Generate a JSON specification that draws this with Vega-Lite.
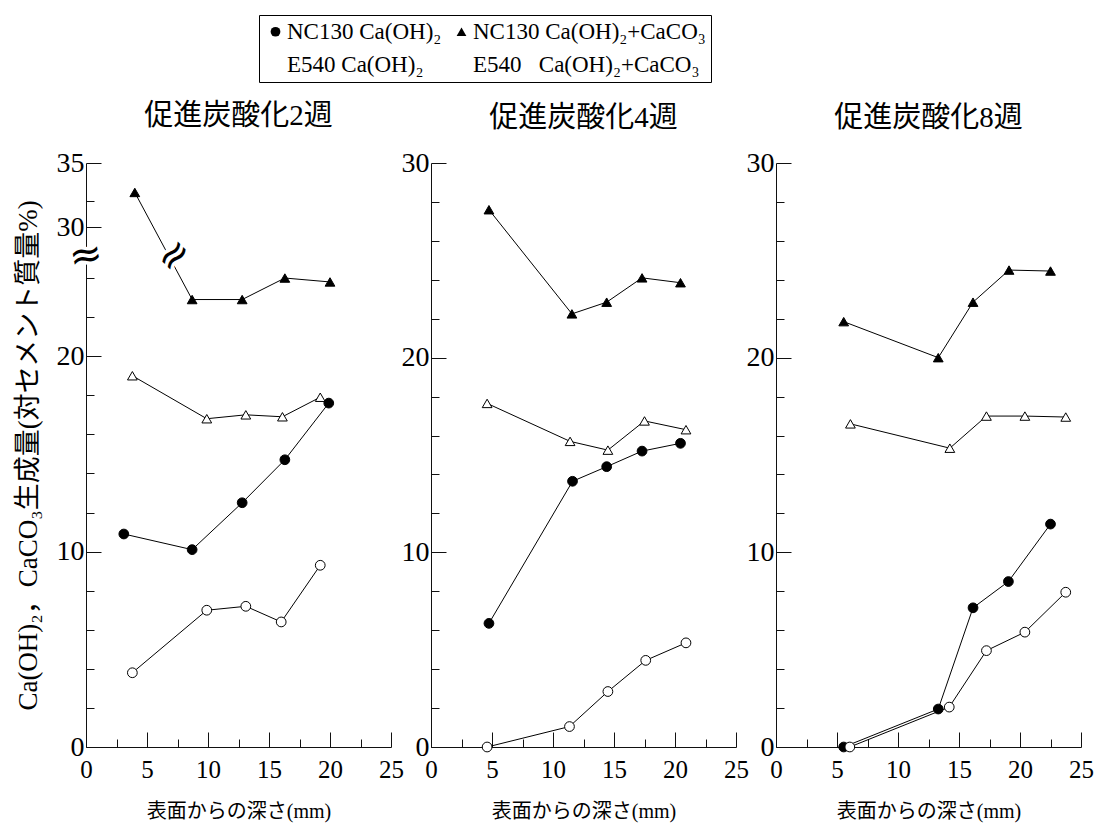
{
  "$schema": "https://vega.github.io/schema/vega-lite/v6.json",
  "background": "white",
  "padding": {"left": 14, "top": 14, "right": 5, "bottom": 5},
  "datasets": {
    "w2": [
      {"series": "NC130 Ca(OH)₂", "depth": 3.1, "value": 10.9},
      {"series": "NC130 Ca(OH)₂", "depth": 8.7, "value": 10.1},
      {"series": "NC130 Ca(OH)₂", "depth": 12.8, "value": 12.5},
      {"series": "NC130 Ca(OH)₂", "depth": 16.3, "value": 14.7},
      {"series": "NC130 Ca(OH)₂", "depth": 19.9, "value": 17.6},
      {"series": "E540 Ca(OH)₂", "depth": 3.8, "value": 3.8},
      {"series": "E540 Ca(OH)₂", "depth": 9.9, "value": 7.0},
      {"series": "E540 Ca(OH)₂", "depth": 13.1, "value": 7.2},
      {"series": "E540 Ca(OH)₂", "depth": 16.0, "value": 6.4},
      {"series": "E540 Ca(OH)₂", "depth": 19.2, "value": 9.3},
      {"series": "NC130 Ca(OH)₂+CaCO₃", "depth": 4.0, "value": 32.7},
      {"series": "NC130 Ca(OH)₂+CaCO₃", "depth": 8.7, "value": 22.9},
      {"series": "NC130 Ca(OH)₂+CaCO₃", "depth": 12.8, "value": 22.9},
      {"series": "NC130 Ca(OH)₂+CaCO₃", "depth": 16.3, "value": 24.0},
      {"series": "NC130 Ca(OH)₂+CaCO₃", "depth": 20.0, "value": 23.8},
      {"series": "E540\u00a0\u00a0\u00a0Ca(OH)₂+CaCO₃", "depth": 3.8, "value": 19.0},
      {"series": "E540\u00a0\u00a0\u00a0Ca(OH)₂+CaCO₃", "depth": 9.9, "value": 16.8},
      {"series": "E540\u00a0\u00a0\u00a0Ca(OH)₂+CaCO₃", "depth": 13.1, "value": 17.0},
      {"series": "E540\u00a0\u00a0\u00a0Ca(OH)₂+CaCO₃", "depth": 16.1, "value": 16.9},
      {"series": "E540\u00a0\u00a0\u00a0Ca(OH)₂+CaCO₃", "depth": 19.2, "value": 17.9}
    ],
    "w4": [
      {"series": "NC130 Ca(OH)₂", "depth": 4.75, "value": 6.35},
      {"series": "NC130 Ca(OH)₂", "depth": 11.6, "value": 13.65},
      {"series": "NC130 Ca(OH)₂", "depth": 14.4, "value": 14.4},
      {"series": "NC130 Ca(OH)₂", "depth": 17.3, "value": 15.2},
      {"series": "NC130 Ca(OH)₂", "depth": 20.45, "value": 15.6},
      {"series": "E540 Ca(OH)₂", "depth": 4.6, "value": 0},
      {"series": "E540 Ca(OH)₂", "depth": 11.35, "value": 1.05},
      {"series": "E540 Ca(OH)₂", "depth": 14.5, "value": 2.85},
      {"series": "E540 Ca(OH)₂", "depth": 17.6, "value": 4.45},
      {"series": "E540 Ca(OH)₂", "depth": 20.9, "value": 5.35},
      {"series": "NC130 Ca(OH)₂+CaCO₃", "depth": 4.75, "value": 27.6},
      {"series": "NC130 Ca(OH)₂+CaCO₃", "depth": 11.55, "value": 22.25},
      {"series": "NC130 Ca(OH)₂+CaCO₃", "depth": 14.4, "value": 22.85},
      {"series": "NC130 Ca(OH)₂+CaCO₃", "depth": 17.3, "value": 24.1},
      {"series": "NC130 Ca(OH)₂+CaCO₃", "depth": 20.45, "value": 23.85},
      {"series": "E540\u00a0\u00a0\u00a0Ca(OH)₂+CaCO₃", "depth": 4.6, "value": 17.65},
      {"series": "E540\u00a0\u00a0\u00a0Ca(OH)₂+CaCO₃", "depth": 11.4, "value": 15.7},
      {"series": "E540\u00a0\u00a0\u00a0Ca(OH)₂+CaCO₃", "depth": 14.5, "value": 15.25},
      {"series": "E540\u00a0\u00a0\u00a0Ca(OH)₂+CaCO₃", "depth": 17.5, "value": 16.75},
      {"series": "E540\u00a0\u00a0\u00a0Ca(OH)₂+CaCO₃", "depth": 20.9, "value": 16.3}
    ],
    "w8": [
      {"series": "NC130 Ca(OH)₂", "depth": 5.55, "value": 0},
      {"series": "NC130 Ca(OH)₂", "depth": 13.3, "value": 1.95},
      {"series": "NC130 Ca(OH)₂", "depth": 16.15, "value": 7.15},
      {"series": "NC130 Ca(OH)₂", "depth": 19.05, "value": 8.5},
      {"series": "NC130 Ca(OH)₂", "depth": 22.5, "value": 11.45},
      {"series": "E540 Ca(OH)₂", "depth": 6.05, "value": 0},
      {"series": "E540 Ca(OH)₂", "depth": 14.2, "value": 2.05},
      {"series": "E540 Ca(OH)₂", "depth": 17.25, "value": 4.95},
      {"series": "E540 Ca(OH)₂", "depth": 20.4, "value": 5.9},
      {"series": "E540 Ca(OH)₂", "depth": 23.75, "value": 7.95},
      {"series": "NC130 Ca(OH)₂+CaCO₃", "depth": 5.55, "value": 21.85},
      {"series": "NC130 Ca(OH)₂+CaCO₃", "depth": 13.3, "value": 20.0},
      {"series": "NC130 Ca(OH)₂+CaCO₃", "depth": 16.15, "value": 22.85},
      {"series": "NC130 Ca(OH)₂+CaCO₃", "depth": 19.1, "value": 24.5},
      {"series": "NC130 Ca(OH)₂+CaCO₃", "depth": 22.5, "value": 24.45},
      {"series": "E540\u00a0\u00a0\u00a0Ca(OH)₂+CaCO₃", "depth": 6.1, "value": 16.6},
      {"series": "E540\u00a0\u00a0\u00a0Ca(OH)₂+CaCO₃", "depth": 14.25, "value": 15.35},
      {"series": "E540\u00a0\u00a0\u00a0Ca(OH)₂+CaCO₃", "depth": 17.25, "value": 17.0},
      {"series": "E540\u00a0\u00a0\u00a0Ca(OH)₂+CaCO₃", "depth": 20.4, "value": 17.0},
      {"series": "E540\u00a0\u00a0\u00a0Ca(OH)₂+CaCO₃", "depth": 23.75, "value": 16.95}
    ],
    "breaks": [
      {"where": "axis", "depth": 0, "value": 25.4},
      {"where": "line", "depth": 7.25, "value": 25.4}
    ]
  },
  "config": {
    "view": {"stroke": null},
    "font": "Liberation Serif, Noto Sans CJK JP",
    "axis": {
      "grid": false,
      "domainColor": "#111",
      "tickColor": "#111",
      "domainWidth": 1,
      "tickWidth": 1,
      "labelColor": "black",
      "titleColor": "black",
      "labelFont": "Liberation Serif",
      "titleFont": "Liberation Serif, Noto Sans CJK JP",
      "titleFontWeight": "normal",
      "labelFlush": false,
      "labelOverlap": false
    },
    "title": {"font": "Liberation Serif, Noto Sans CJK JP", "fontWeight": "normal", "fontSize": 29, "color": "black", "offset": 16, "frame": "group"}
  },
  "spacing": 40,
  "bounds": "flush",
  "resolve": {"legend": {"fill": "independent", "shape": "independent", "size": "independent"}},
  "hconcat": [
    {
      "width": 305,
      "height": 584,
      "title": {"text": "促進炭酸化2週", "offset": -116},
      "data": {"name": "w2"},
      "resolve": {"axis": {"x": "independent", "y": "independent"}},
      "layer": [
        {
          "mark": {"type": "line", "color": "black", "strokeWidth": 1},
          "encoding": {
            "x": {"field": "depth", "type": "quantitative", "scale": {"domain": [0, 25], "nice": false, "zero": false},
              "axis": {"orient": "bottom", "values": [0, 5, 10, 15, 20, 25], "tickSize": -15, "labelFontSize": 25, "labelPadding": 25, "title": "表面からの深さ(mm)", "titleFontSize": 20, "titlePadding": 19}},
            "y": {"field": "value", "type": "quantitative", "scale": {"domain": [0, 25, 30, 35], "range": [584, 95.5, 64, 0], "nice": false, "zero": false},
              "axis": {"orient": "left", "values": [0, 10, 20, 30, 35], "tickSize": -15, "labelFontSize": 28, "labelPadding": 17, "title": "Ca(OH)₂，CaCO₃生成量(対セメント質量%)", "titleFontSize": 27, "titlePadding": 14}},
            "detail": {"field": "series"}
          }
        },
        {
          "mark": {"type": "point", "filled": true, "stroke": "black", "strokeWidth": 1, "opacity": 1},
          "encoding": {
            "x": {"field": "depth", "type": "quantitative",
              "axis": {"orient": "bottom", "values": [2.5, 7.5, 12.5, 17.5, 22.5], "tickSize": -8, "labels": false, "domain": false, "title": null}},
            "y": {"field": "value", "type": "quantitative",
              "axis": {"orient": "left", "values": [2, 4, 6, 8, 12, 14, 16, 18, 22, 24, 32], "tickSize": -8, "labels": false, "domain": false, "title": null}},
            "shape": {"field": "series", "scale": {"domain": ["NC130 Ca(OH)₂", "E540 Ca(OH)₂", "NC130 Ca(OH)₂+CaCO₃", "E540\u00a0\u00a0\u00a0Ca(OH)₂+CaCO₃"], "range": ["circle", "circle", "triangle-up", "triangle-up"]},
              "legend": {
                "orient": "none", "legendX": 173, "legendY": -148,
                "title": null, "columns": 2, "columnPadding": 8, "rowPadding": 9,
                "symbolSize": 1600, "symbolStrokeColor": "black", "symbolStrokeWidth": 1,
                "labelFont": "Liberation Serif", "labelFontSize": 23, "labelOffset": 0, "labelLimit": 400, "labelColor": "black",
                "strokeColor": "black", "fillColor": "white", "padding": 5,
                "encode": {"symbols": {
                  "size": {"value": 1600},
                  "stroke": {"value": "black"},
                  "strokeWidth": {"value": 1},
                  "shape": {"condition": {"test": "indexOf(datum.value, '+') >= 0", "value": "M-1,0H-0.13M0.13,0H1M0,-0.2L0.225,0.15L-0.225,0.15Z"}, "value": "M-1,0H-0.175M0.175,0H1M-0.175,0A0.175,0.175 0 1,1 0.175,0A0.175,0.175 0 1,1 -0.175,0Z"}
                }}
              }},
            "size": {"field": "series", "scale": {"domain": ["NC130 Ca(OH)₂", "E540 Ca(OH)₂", "NC130 Ca(OH)₂+CaCO₃", "E540\u00a0\u00a0\u00a0Ca(OH)₂+CaCO₃"], "range": [95, 95, 140, 130]},
              "legend": {
                "orient": "none", "legendX": 173, "legendY": -148,
                "title": null, "columns": 2, "columnPadding": 8, "rowPadding": 9,
                "symbolSize": 1600, "symbolStrokeColor": "black", "symbolStrokeWidth": 1,
                "labelFont": "Liberation Serif", "labelFontSize": 23, "labelOffset": 0, "labelLimit": 400, "labelColor": "black",
                "strokeColor": "black", "fillColor": "white", "padding": 5,
                "encode": {"symbols": {
                  "size": {"value": 1600},
                  "stroke": {"value": "black"},
                  "strokeWidth": {"value": 1},
                  "shape": {"condition": {"test": "indexOf(datum.value, '+') >= 0", "value": "M-1,0H-0.13M0.13,0H1M0,-0.2L0.225,0.15L-0.225,0.15Z"}, "value": "M-1,0H-0.175M0.175,0H1M-0.175,0A0.175,0.175 0 1,1 0.175,0A0.175,0.175 0 1,1 -0.175,0Z"}
                }}
              }},
            "fill": {"field": "series", "scale": {"domain": ["NC130 Ca(OH)₂", "E540 Ca(OH)₂", "NC130 Ca(OH)₂+CaCO₃", "E540\u00a0\u00a0\u00a0Ca(OH)₂+CaCO₃"], "range": ["black", "white", "black", "white"]},
              "legend": {
                "orient": "none", "legendX": 173, "legendY": -148,
                "title": null, "columns": 2, "columnPadding": 8, "rowPadding": 9,
                "symbolSize": 1600, "symbolStrokeColor": "black", "symbolStrokeWidth": 1,
                "labelFont": "Liberation Serif", "labelFontSize": 23, "labelOffset": 0, "labelLimit": 400, "labelColor": "black",
                "strokeColor": "black", "fillColor": "white", "padding": 5,
                "encode": {"symbols": {
                  "size": {"value": 1600},
                  "stroke": {"value": "black"},
                  "strokeWidth": {"value": 1},
                  "shape": {"condition": {"test": "indexOf(datum.value, '+') >= 0", "value": "M-1,0H-0.13M0.13,0H1M0,-0.2L0.225,0.15L-0.225,0.15Z"}, "value": "M-1,0H-0.175M0.175,0H1M-0.175,0A0.175,0.175 0 1,1 0.175,0A0.175,0.175 0 1,1 -0.175,0Z"}
                }}
              }}
          }
        },
        {
          "data": {"name": "breaks"},
          "transform": [{"filter": "datum.where == 'axis'"}],
          "mark": {"type": "text", "text": "≈", "font": "DejaVu Sans", "fontSize": 40, "align": "center", "baseline": "middle", "fill": "white", "stroke": "white", "strokeWidth": 7, "angle": -10},
          "encoding": {"x": {"field": "depth", "type": "quantitative", "axis": null}, "y": {"field": "value", "type": "quantitative", "axis": null}}
        },
        {
          "data": {"name": "breaks"},
          "transform": [{"filter": "datum.where == 'axis'"}],
          "mark": {"type": "text", "text": "≈", "font": "DejaVu Sans", "fontSize": 40, "align": "center", "baseline": "middle", "fill": "black", "angle": -10},
          "encoding": {"x": {"field": "depth", "type": "quantitative", "axis": null}, "y": {"field": "value", "type": "quantitative", "axis": null}}
        },
        {
          "data": {"name": "breaks"},
          "transform": [{"filter": "datum.where == 'line'"}],
          "mark": {"type": "text", "text": "≈", "font": "DejaVu Sans", "fontSize": 40, "align": "center", "baseline": "middle", "fill": "white", "stroke": "white", "strokeWidth": 7, "angle": -45},
          "encoding": {"x": {"field": "depth", "type": "quantitative", "axis": null}, "y": {"field": "value", "type": "quantitative", "axis": null}}
        },
        {
          "data": {"name": "breaks"},
          "transform": [{"filter": "datum.where == 'line'"}],
          "mark": {"type": "text", "text": "≈", "font": "DejaVu Sans", "fontSize": 40, "align": "center", "baseline": "middle", "fill": "black", "angle": -45},
          "encoding": {"x": {"field": "depth", "type": "quantitative", "axis": null}, "y": {"field": "value", "type": "quantitative", "axis": null}}
        }
      ]
    },
    {
      "width": 305,
      "height": 584,
      "title": "促進炭酸化4週",
      "data": {"name": "w4"},
      "resolve": {"axis": {"x": "independent", "y": "independent"}},
      "layer": [
        {
          "mark": {"type": "line", "color": "black", "strokeWidth": 1},
          "encoding": {
            "x": {"field": "depth", "type": "quantitative", "scale": {"domain": [0, 25], "nice": false, "zero": false},
              "axis": {"orient": "bottom", "values": [0, 5, 10, 15, 20, 25], "tickSize": -15, "labelFontSize": 25, "labelPadding": 25, "title": "表面からの深さ(mm)", "titleFontSize": 20, "titlePadding": 19}},
            "y": {"field": "value", "type": "quantitative", "scale": {"domain": [0, 30], "nice": false, "zero": false},
              "axis": {"orient": "left", "values": [0, 10, 20, 30], "tickSize": -15, "labelFontSize": 28, "labelPadding": 17, "title": null}},
            "detail": {"field": "series"}
          }
        },
        {
          "mark": {"type": "point", "filled": true, "stroke": "black", "strokeWidth": 1, "opacity": 1},
          "encoding": {
            "x": {"field": "depth", "type": "quantitative",
              "axis": {"orient": "bottom", "values": [2.5, 7.5, 12.5, 17.5, 22.5], "tickSize": -8, "labels": false, "domain": false, "title": null}},
            "y": {"field": "value", "type": "quantitative",
              "axis": {"orient": "left", "values": [2, 4, 6, 8, 12, 14, 16, 18, 22, 24, 26, 28], "tickSize": -8, "labels": false, "domain": false, "title": null}},
            "shape": {"field": "series", "scale": {"domain": ["NC130 Ca(OH)₂", "E540 Ca(OH)₂", "NC130 Ca(OH)₂+CaCO₃", "E540\u00a0\u00a0\u00a0Ca(OH)₂+CaCO₃"], "range": ["circle", "circle", "triangle-up", "triangle-up"]}, "legend": null},
            "size": {"field": "series", "scale": {"domain": ["NC130 Ca(OH)₂", "E540 Ca(OH)₂", "NC130 Ca(OH)₂+CaCO₃", "E540\u00a0\u00a0\u00a0Ca(OH)₂+CaCO₃"], "range": [95, 95, 140, 130]}, "legend": null},
            "fill": {"field": "series", "scale": {"domain": ["NC130 Ca(OH)₂", "E540 Ca(OH)₂", "NC130 Ca(OH)₂+CaCO₃", "E540\u00a0\u00a0\u00a0Ca(OH)₂+CaCO₃"], "range": ["black", "white", "black", "white"]}, "legend": null}
          }
        }
      ]
    },
    {
      "width": 305,
      "height": 584,
      "title": "促進炭酸化8週",
      "data": {"name": "w8"},
      "resolve": {"axis": {"x": "independent", "y": "independent"}},
      "layer": [
        {
          "mark": {"type": "line", "color": "black", "strokeWidth": 1},
          "encoding": {
            "x": {"field": "depth", "type": "quantitative", "scale": {"domain": [0, 25], "nice": false, "zero": false},
              "axis": {"orient": "bottom", "values": [0, 5, 10, 15, 20, 25], "tickSize": -15, "labelFontSize": 25, "labelPadding": 25, "title": "表面からの深さ(mm)", "titleFontSize": 20, "titlePadding": 19}},
            "y": {"field": "value", "type": "quantitative", "scale": {"domain": [0, 30], "nice": false, "zero": false},
              "axis": {"orient": "left", "values": [0, 10, 20, 30], "tickSize": -15, "labelFontSize": 28, "labelPadding": 17, "title": null}},
            "detail": {"field": "series"}
          }
        },
        {
          "mark": {"type": "point", "filled": true, "stroke": "black", "strokeWidth": 1, "opacity": 1},
          "encoding": {
            "x": {"field": "depth", "type": "quantitative",
              "axis": {"orient": "bottom", "values": [2.5, 7.5, 12.5, 17.5, 22.5], "tickSize": -8, "labels": false, "domain": false, "title": null}},
            "y": {"field": "value", "type": "quantitative",
              "axis": {"orient": "left", "values": [2, 4, 6, 8, 12, 14, 16, 18, 22, 24, 26, 28], "tickSize": -8, "labels": false, "domain": false, "title": null}},
            "shape": {"field": "series", "scale": {"domain": ["NC130 Ca(OH)₂", "E540 Ca(OH)₂", "NC130 Ca(OH)₂+CaCO₃", "E540\u00a0\u00a0\u00a0Ca(OH)₂+CaCO₃"], "range": ["circle", "circle", "triangle-up", "triangle-up"]}, "legend": null},
            "size": {"field": "series", "scale": {"domain": ["NC130 Ca(OH)₂", "E540 Ca(OH)₂", "NC130 Ca(OH)₂+CaCO₃", "E540\u00a0\u00a0\u00a0Ca(OH)₂+CaCO₃"], "range": [95, 95, 140, 130]}, "legend": null},
            "fill": {"field": "series", "scale": {"domain": ["NC130 Ca(OH)₂", "E540 Ca(OH)₂", "NC130 Ca(OH)₂+CaCO₃", "E540\u00a0\u00a0\u00a0Ca(OH)₂+CaCO₃"], "range": ["black", "white", "black", "white"]}, "legend": null}
          }
        }
      ]
    }
  ]
}
